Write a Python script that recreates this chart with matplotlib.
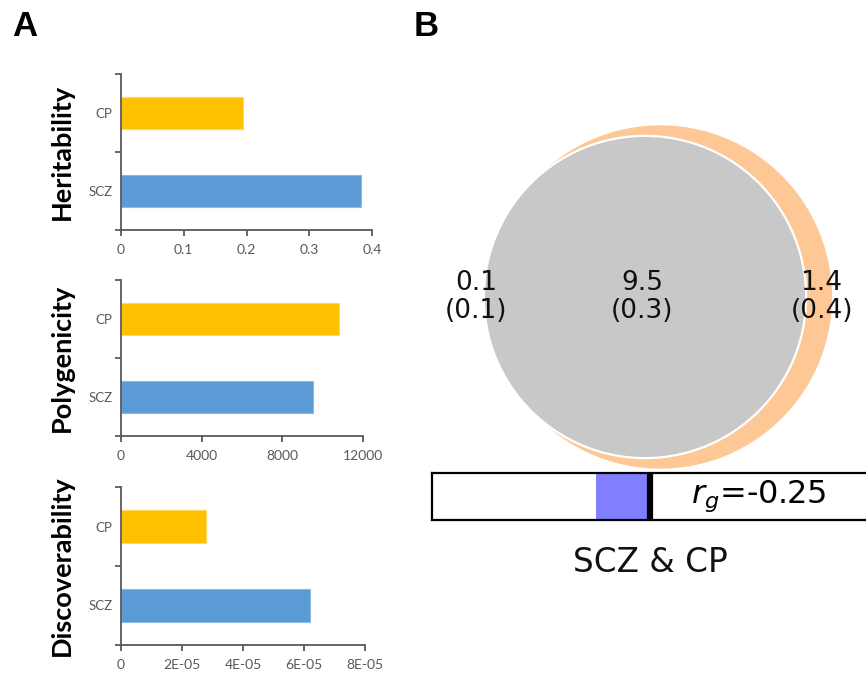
import matplotlib
matplotlib.use('Agg')
import matplotlib.pyplot as plt
from matplotlib.patches import Circle
import numpy as np

W, H = 866, 676

# ---- panel A data
groups = ['SCZ', 'CP']
bar_colors = ['#5B9BD5', '#FFC000']
heritability = [0.383, 0.195]
polygenicity = [9520, 10810]
discoverability = [6.2e-05, 2.8e-05]

metrics = ['Heritability', 'Polygenicity', 'Discoverability']
xticks = {
    'Heritability': ([0, 0.1, 0.2, 0.3, 0.4], ['0', '0.1', '0.2', '0.3', '0.4']),
    'Polygenicity': ([0, 4000, 8000, 12000], ['0', '4000', '8000', '12000']),
    'Discoverability': ([0, 2e-05, 4e-05, 6e-05, 8e-05],
                        ['0', '2E-05', '4E-05', '6E-05', '8E-05']),
}

# ---- panel B data (thousands of causal variants, std in brackets)
venn_unique1 = 0.1
venn_shared = 9.5
venn_unique2 = 1.4
venn_std = [0.1, 0.3, 0.4]
rg = -0.25
pair_title = 'SCZ & CP'

GRAY = '#595959'


def box(l, t, r, b):
    return [l / W, 1 - b / H, (r - l) / W, (b - t) / H]


def overlap_area(r1, r2, d):
    if d >= r1 + r2:
        return 0.0
    if d <= abs(r1 - r2):
        return np.pi * min(r1, r2) ** 2
    a1 = r1 ** 2 * np.arccos((d ** 2 + r1 ** 2 - r2 ** 2) / (2 * d * r1))
    a2 = r2 ** 2 * np.arccos((d ** 2 + r2 ** 2 - r1 ** 2) / (2 * d * r2))
    a3 = 0.5 * np.sqrt((-d + r1 + r2) * (d + r1 - r2) * (d - r1 + r2) * (d + r1 + r2))
    return a1 + a2 - a3


fig = plt.figure(figsize=(W / 100, H / 100), dpi=100)

values = {'Heritability': heritability, 'Polygenicity': polygenicity,
          'Discoverability': discoverability}
boxes = [(121, 74, 372, 230), (121, 280, 363, 436), (121, 487, 365, 645)]

for metric, bx in zip(metrics, boxes):
    ax = fig.add_axes(box(*bx))
    ax.barh([0, 1], values[metric], height=0.41, color=bar_colors,
            edgecolor=['#8DB9E3', '#FFD966'], linewidth=0.8, zorder=2)
    ticks, labels = xticks[metric]
    ax.set_xlim(ticks[0], ticks[-1])
    ax.set_ylim(-0.5, 1.5)
    ax.set_xticks(ticks)
    ax.set_xticklabels(labels, fontfamily='Lato', fontsize=10, color=GRAY)
    ax.set_yticks([-0.5, 0.5, 1.5])
    ax.set_yticklabels([])
    ax.set_yticks([0, 1], minor=True)
    ax.set_yticklabels(groups, minor=True, fontfamily='Lato', fontsize=9.5, color=GRAY)
    ax.tick_params(axis='y', which='minor', length=0, pad=6)
    ax.tick_params(axis='both', which='major', length=4, width=1.3, color=GRAY,
                   direction='out', pad=6)
    for s in ['top', 'right']:
        ax.spines[s].set_visible(False)
    for s in ['left', 'bottom']:
        ax.spines[s].set_color(GRAY)
        ax.spines[s].set_linewidth(1.3)
    fig.text(62 / W, 1 - ((bx[1] + bx[3]) / 2) / H, metric, rotation=90,
             ha='center', va='center', fontfamily='Lato', fontweight='bold',
             fontsize=19.5, color='black')

fig.text(12 / W, 1 - 27 / H, 'A', fontfamily='Liberation Sans', fontweight='bold',
         fontsize=25, va='center', ha='left')
fig.text(414 / W, 1 - 27 / H, 'B', fontfamily='Liberation Sans', fontweight='bold',
         fontsize=25, va='center', ha='left')

# ---- panel B: venn
r1 = np.sqrt(venn_unique1 + venn_shared)
r2 = np.sqrt(venn_shared + venn_unique2)
target = np.pi * venn_shared
lo, hi = abs(r1 - r2), r1 + r2
for _ in range(60):
    mid = 0.5 * (lo + hi)
    if overlap_area(r1, r2, mid) > target:
        lo = mid
    else:
        hi = mid
d = 0.5 * (lo + hi)

scale = 52.0  # px per unit
vl, vt, vr, vb = 420, 100, 866, 470
cx_px, cy_px = 645, 297
vax = fig.add_axes(box(vl, vt, vr, vb))
vax.set_xlim(-(cx_px - vl) / scale, (vr - cx_px) / scale)
vax.set_ylim(-(vb - cy_px) / scale, (cy_px - vt) / scale)
vax.axis('off')
vax.add_patch(Circle((0, 0), r1, facecolor='#DCE6F5', edgecolor='none', alpha=0.6))
vax.add_patch(Circle((d, 0), r2, facecolor='#FDC896', edgecolor='none'))
vax.add_patch(Circle((0, 0), r1, facecolor='#C8C8C8', edgecolor='white', linewidth=1.6))

venn_vals = [venn_unique1, venn_shared, venn_unique2]
label_x = [-r1 - 0.15, -0.05, d + r2 - 0.2]
for x, v, s in zip(label_x, venn_vals, venn_std):
    vax.text(x, 0, '%.1f\n(%.1f)' % (v, s), ha='center', va='center',
             fontsize=19, linespacing=1.05, color='#111111')

# rg bar
rax = fig.add_axes(box(432, 473, 868, 520))
rax.barh(0.5, rg, height=1.0, color='#7F7FFF', left=0)
rax.axvline(0, color='black', linewidth=4.5)
rax.set_xlim(-1, 1)
rax.set_ylim(0, 1)
rax.set_xticks([])
rax.set_yticks([])
for s in rax.spines.values():
    s.set_linewidth(1.6)
    s.set_color('black')
rax.text(0.5, 0.5, '$r_g$=%.2f' % rg, ha='center', va='center', fontsize=23)

fig.text(650 / W, 1 - 563 / H, pair_title, ha='center', va='center', fontsize=23.5,
         color='#111111')

fig.savefig('out.png', dpi=100)
